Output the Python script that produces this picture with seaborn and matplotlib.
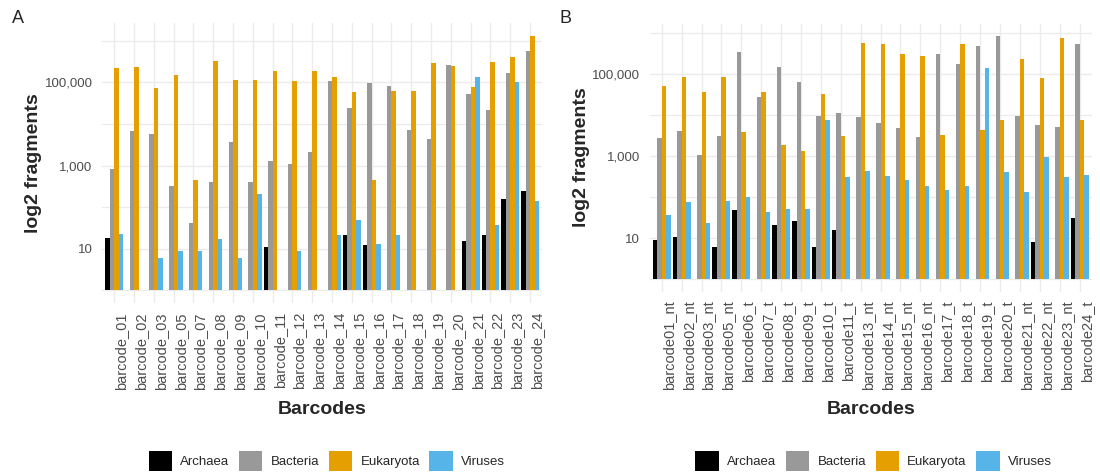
import numpy as np
import pandas as pd
import matplotlib
matplotlib.use('Agg')
import matplotlib.pyplot as plt
from matplotlib.patches import Patch
from matplotlib.ticker import FixedLocator, NullFormatter, FuncFormatter
import seaborn as sns

nan = np.nan
kingdoms = ['Archaea', 'Bacteria', 'Eukaryota', 'Viruses']
colours = ['#000000', '#999999', '#E69F00', '#56B4E9']

# panel A ~ barcodes, fragment counts per kingdom (nan = no bar)
barcodes_a = ['barcode_01', 'barcode_02', 'barcode_03', 'barcode_05', 'barcode_07', 'barcode_08',
              'barcode_09', 'barcode_10', 'barcode_11', 'barcode_12', 'barcode_13', 'barcode_14',
              'barcode_15', 'barcode_16', 'barcode_17', 'barcode_18', 'barcode_19', 'barcode_20',
              'barcode_21', 'barcode_22', 'barcode_23', 'barcode_24']
archaea_a = [18, nan, nan, nan, nan, nan, nan, nan, 11, nan, nan, nan,
             21, 12, nan, nan, nan, nan, 15, 21, 158, 242]
bacteria_a = [832, 6670, 5860, 319, 42, 398, 3630, 398, 1270, 1117, 2090, 108000,
              23800, 94600, 81700, 7180, 4450, 265000, 53500, 21700, 164000, 575000]
eukaryota_a = [216800, 229000, 71800, 150000, 453, 325000, 116000, 116000, 190000, 110000, 190000, 134000,
               57500, 453, 61900, 61900, 286000, 247000, 75900, 308000, 406000, 1320000]
viruses_a = [23, nan, 6, 9, 9, 17, 6, 209, nan, 9, nan, 21,
             50, 13, 21, nan, nan, nan, 134000, 37, 102000, 139]

# panel B
barcodes_b = ['barcode01_nt', 'barcode02_nt', 'barcode03_nt', 'barcode05_nt', 'barcode06_t', 'barcode07_t',
              'barcode08_t', 'barcode09_t', 'barcode10_t', 'barcode11_t', 'barcode13_nt', 'barcode14_nt',
              'barcode15_nt', 'barcode16_nt', 'barcode17_t', 'barcode18_t', 'barcode19_t', 'barcode20_t',
              'barcode21_nt', 'barcode22_nt', 'barcode23_nt', 'barcode24_t']
archaea_b = [9, 11, nan, 6, 49, nan, 21, 26, 6, 16, nan, nan,
             nan, nan, nan, nan, nan, nan, nan, 8, nan, 32]
bacteria_b = [2750, 4150, 1100, 3130, 357000, 28000, 151000, 65000, 9640, 11200, 9100, 6380,
              4820, 2960, 307000, 175000, 500000, 877000, 9640, 5920, 5100, 549000]
eukaryota_b = [53000, 86000, 37000, 86000, 3850, 37000, 1930, 1350, 34000, 3130, 581000, 549000,
               307000, 285000, 3380, 540000, 4470, 7840, 232000, 80000, 770000, 7840]
viruses_b = [37, 75, 23, 81, 100, 43, 53, 53, 7840, 307, 431, 331,
             265, 185, 151, 185, 140000, 407, 132, 946, 307, 351]

sns.set_theme(style='whitegrid')
plt.rcParams['font.family'] = ['Liberation Sans', 'DejaVu Sans']


def long_table(barcodes, archaea, bacteria, eukaryota, viruses):      # wide -> long for seaborn hue
    df = pd.DataFrame({'Barcodes': barcodes, 'Archaea': archaea, 'Bacteria': bacteria,
                       'Eukaryota': eukaryota, 'Viruses': viruses})
    df = df.melt(id_vars='Barcodes', var_name='kingdom', value_name='fragments')
    return df.dropna()


def draw_panel(ax, df, order):
    sns.barplot(data=df, x='Barcodes', y='fragments', hue='kingdom', order=order, hue_order=kingdoms,
                palette=colours, width=0.9, saturation=1, errorbar=None, legend=False, linewidth=0, ax=ax)
    ax.set_yscale('log')
    for p in ax.patches:                                         # ggplot log bars start at 1
        h = p.get_height()
        if np.isfinite(h):
            p.set_y(1)
            p.set_height(h - 1)
    top = np.log10(df['fragments'].max())
    ax.set_ylim(10 ** (-0.05 * top), 10 ** (1.05 * top))
    ax.set_xlim(-0.6, len(order) - 0.4)
    ax.yaxis.set_major_locator(FixedLocator([10, 1e3, 1e5]))
    ax.yaxis.set_major_formatter(FuncFormatter(lambda v, pos: f'{v:,.0f}'))
    ax.yaxis.set_minor_locator(FixedLocator([1, 1e2, 1e4, 1e6]))
    ax.yaxis.set_minor_formatter(NullFormatter())
    ax.set_axisbelow(True)
    ax.grid(which='major', axis='both', color='#EBEBEB', linewidth=1.0)
    ax.grid(which='minor', axis='y', color='#EBEBEB', linewidth=0.9)
    for s in ax.spines.values():
        s.set_visible(False)
    ax.tick_params(axis='both', which='both', length=0)
    ax.tick_params(axis='y', pad=7, labelsize=9.5, labelcolor='#4D4D4D')
    ax.tick_params(axis='x', pad=6.5, labelsize=10.5, labelcolor='#4D4D4D')
    for lab in ax.get_xticklabels():
        lab.set_rotation(90)
        lab.set_ha('left')
    ax.set_xlabel('')
    ax.set_ylabel('')


fig = plt.figure(figsize=(11, 4.76), dpi=100)
ax_a = fig.add_axes([0.0931, 0.3634, 0.3996, 0.5882])
ax_b = fig.add_axes([0.5907, 0.3876, 0.4016, 0.5630])

draw_panel(ax_a, long_table(barcodes_a, archaea_a, bacteria_a, eukaryota_a, viruses_a), barcodes_a)
draw_panel(ax_b, long_table(barcodes_b, archaea_b, bacteria_b, eukaryota_b, viruses_b), barcodes_b)

# axis titles, panel tags
for x_mid, y_mid, x_lab in [(322 / 1100, 163, 33 / 1100), (870.7 / 1100, 157.5, 581.7 / 1100)]:
    fig.text(x_mid, 1 - 409 / 476, 'Barcodes', ha='center', va='center', fontsize=14, fontweight='bold')
    fig.text(x_lab, 1 - y_mid / 476, 'log2 fragments', ha='center', va='center', rotation=90,
             fontsize=14, fontweight='bold')
fig.text(11.5 / 1100, 1 - 23.3 / 476, 'A', ha='left', va='baseline', fontsize=13)
fig.text(560 / 1100, 1 - 22.7 / 476, 'B', ha='left', va='baseline', fontsize=13)

# legends under each panel
handles = [Patch(facecolor=c, edgecolor='none', label=k) for k, c in zip(kingdoms, colours)]
for cx in [326.8 / 1100, 873.7 / 1100]:
    fig.legend(handles=handles, loc='center', bbox_to_anchor=(cx, 1 - 461 / 476), ncol=4, frameon=False,
               fontsize=9.5, handlelength=1.77, handleheight=1.97, handletextpad=0.63, columnspacing=0.73)

fig.savefig('out.png', dpi=100)
